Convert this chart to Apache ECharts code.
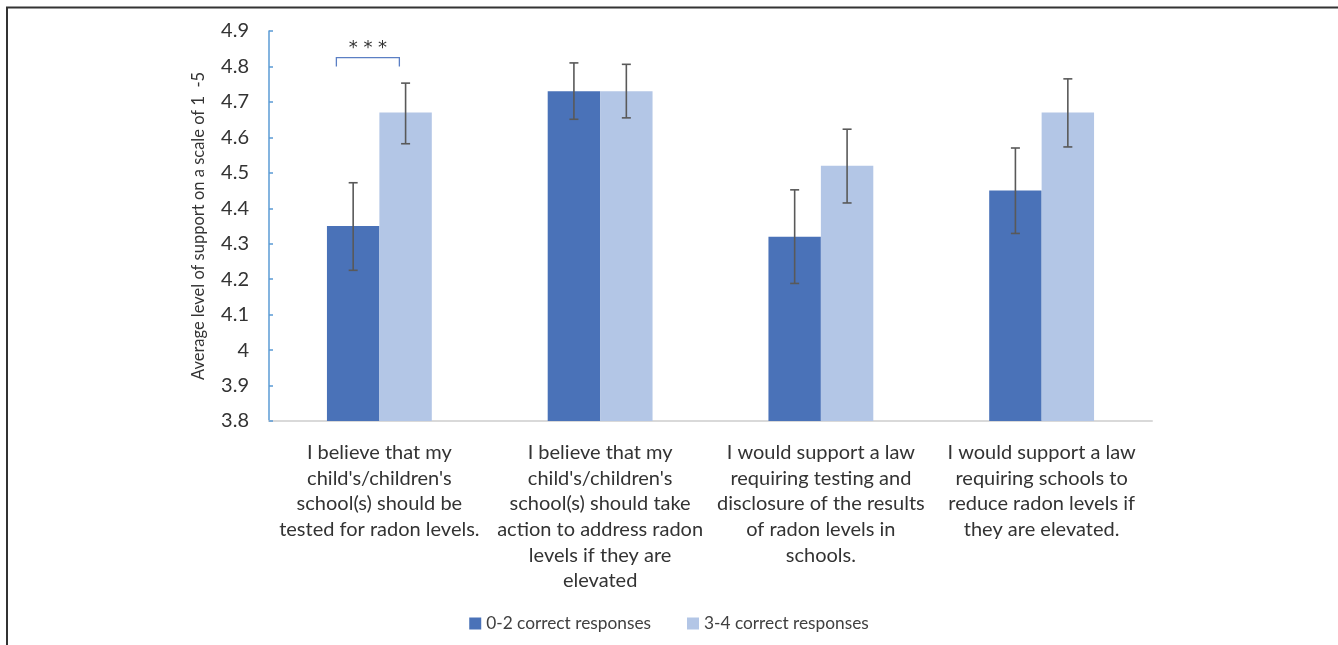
<!DOCTYPE html>
<html>
<head>
<meta charset="utf-8">
<script src="https://cdn.jsdelivr.net/npm/echarts@6/dist/echarts.min.js"></script>
<style>
html,body{margin:0;padding:0;background:#fff;}
#c{width:1338px;height:645px;}
</style>
</head>
<body>
<div id="c"></div>
<script>
const categories = [
  "I believe that my\nchild's/children's\nschool(s) should be\ntested for radon levels.",
  "I believe that my\nchild's/children's\nschool(s) should take\naction to address radon\nlevels if they are\nelevated",
  "I would support a law\nrequiring testing and\ndisclosure of the results\nof radon levels in\nschools.",
  "I would support a law\nrequiring schools to\nreduce radon levels if\nthey are elevated."
];
const seriesNames = ["0-2 correct responses", "3-4 correct responses"];
const low02 = [4.35, 4.73, 4.32, 4.45];
const high34 = [4.67, 4.73, 4.52, 4.67];
const err02Low = [4.225, 4.651, 4.188, 4.329];
const err02High = [4.472, 4.810, 4.452, 4.570];
const err34Low = [4.582, 4.655, 4.415, 4.573];
const err34High = [4.753, 4.806, 4.623, 4.765];
const yTicks = [3.8, 4.9, 0.1];
const sigLabel = "* * *";

const FONT = "Lato, 'Open Sans', sans-serif";
const GAP = 0.525;
const chart = echarts.init(document.getElementById('c'), null, {renderer: 'canvas'});

function errSeries(idx, lows, highs) {
  return {
    type: 'custom',
    name: seriesNames[idx] + ' err',
    z: 10,
    silent: true,
    data: lows.map((l, i) => [i, l, highs[i]]),
    renderItem: function (params, api) {
      const band = api.size([1, 0])[0];
      const w = band * (1 - GAP) / 2;
      const c = api.coord([api.value(0), api.value(1)]);
      const cx = c[0] + (idx === 0 ? -w / 2 : w / 2);
      const yl = c[1];
      const yh = api.coord([api.value(0), api.value(2)])[1];
      const cap = 4.5;
      const st = {stroke: '#595959', lineWidth: 1.6};
      return {type: 'group', children: [
        {type: 'line', shape: {x1: cx, y1: yl, x2: cx, y2: yh}, style: st},
        {type: 'line', shape: {x1: cx - cap, y1: yl, x2: cx + cap, y2: yl}, style: st},
        {type: 'line', shape: {x1: cx - cap, y1: yh, x2: cx + cap, y2: yh}, style: st}
      ]};
    }
  };
}

const option = {
  animation: false,
  textStyle: {fontFamily: FONT},
  grid: {left: 269, right: 186, top: 31, bottom: 224, containLabel: false},
  legend: {
    bottom: 8, left: 'center',
    icon: 'rect', itemWidth: 12, itemHeight: 12, itemGap: 36,
    textStyle: {fontSize: 17.3, color: '#404040', fontFamily: FONT},
    data: seriesNames
  },
  xAxis: {
    type: 'category',
    data: categories,
    axisLine: {show: true, lineStyle: {color: '#d9d9d9', width: 2}},
    axisTick: {show: false},
    axisLabel: {interval: 0, fontSize: 20, lineHeight: 25.6, color: '#333', margin: 19, fontFamily: FONT}
  },
  yAxis: {
    type: 'value',
    min: yTicks[0], max: yTicks[1], interval: yTicks[2],
    name: 'Average level of support on a scale of 1  -5',
    nameLocation: 'middle', nameGap: 62, nameRotate: 90,
    nameTextStyle: {fontSize: 16.5, color: '#333', fontFamily: FONT},
    axisLine: {show: true, lineStyle: {color: '#5b9bd5', width: 1.5}},
    axisTick: {show: true, inside: true, length: 4, lineStyle: {color: '#5b9bd5', width: 1.5}},
    splitLine: {show: false},
    axisLabel: {fontSize: 20, color: '#333', margin: 20, fontFamily: FONT,
      formatter: v => String(Math.round(v * 10) / 10)}
  },
  series: [
    {type: 'bar', name: seriesNames[0], data: low02, barGap: '0%', barCategoryGap: (GAP * 100) + '%',
      itemStyle: {color: '#4a72b8'}},
    {type: 'bar', name: seriesNames[1], data: high34, barGap: '0%', barCategoryGap: (GAP * 100) + '%',
      itemStyle: {color: '#b3c6e6'}},
    errSeries(0, err02Low, err02High),
    errSeries(1, err34Low, err34High)
  ]
};
chart.setOption(option);

// frame + significance bracket
const c0 = chart.convertToPixel({xAxisIndex: 0}, 0);
const yb = chart.convertToPixel({yAxisIndex: 0}, 4.825);
const yl = chart.convertToPixel({yAxisIndex: 0}, 4.80);
const ys = chart.convertToPixel({yAxisIndex: 0}, 4.85);
const bx1 = c0 - 43, bx2 = c0 + 20;
chart.setOption({
  graphic: [
    {type: 'polyline', silent: true,
      shape: {points: [[7, 700], [7, 7.5], [1400, 7.5]]},
      style: {stroke: '#333', lineWidth: 2, fill: null}},
    {type: 'polyline', silent: true,
      shape: {points: [[bx1, yl], [bx1, yb], [bx2, yb], [bx2, yl]]},
      style: {stroke: '#5b7fc4', lineWidth: 1.3, fill: null}},
    {type: 'text', silent: true, x: (bx1 + bx2) / 2, y: ys,
      style: {text: sigLabel, fontSize: 18, fill: '#333', align: 'center', verticalAlign: 'middle', fontFamily: "'DejaVu Sans', sans-serif"}}
  ]
});
</script>
</body>
</html>
